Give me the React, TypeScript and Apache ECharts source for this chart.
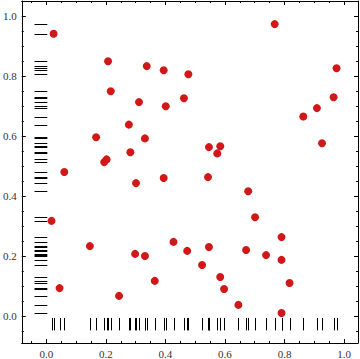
import React, { useEffect, useRef } from "react";
import * as echarts from "echarts";

// Point coordinates
const xValues = [
  0.024, 0.207, 0.337, 0.394, 0.477, 0.216, 0.311, 0.401, 0.462, 0.767,
  0.975, 0.965, 0.909, 0.863, 0.277, 0.167, 0.331, 0.282, 0.194, 0.202,
  0.06, 0.301, 0.394, 0.017, 0.926, 0.546, 0.584, 0.574, 0.543, 0.678,
  0.701, 0.146, 0.298, 0.331, 0.427, 0.473, 0.044, 0.244, 0.364, 0.546,
  0.523, 0.584, 0.597, 0.645, 0.671, 0.738, 0.79, 0.79, 0.817, 0.79,
];
const yValues = [
  0.941, 0.849, 0.833, 0.819, 0.806, 0.749, 0.713, 0.699, 0.726, 0.973,
  0.826, 0.729, 0.693, 0.665, 0.638, 0.596, 0.592, 0.546, 0.513, 0.522,
  0.48, 0.443, 0.46, 0.317, 0.576, 0.563, 0.566, 0.542, 0.463, 0.416,
  0.329, 0.233, 0.207, 0.2, 0.247, 0.217, 0.093, 0.067, 0.117, 0.23,
  0.17, 0.13, 0.09, 0.037, 0.22, 0.203, 0.263, 0.187, 0.11, 0.01,
];

// Axis extents
const X_MIN = -0.083;
const X_MAX = 1.047;
const Y_MIN = -0.09;
const Y_MAX = 1.05;

// Rug extents (data units)
const RUG_LEFT_X0 = -0.04;
const RUG_LEFT_X1 = 0.003;
const RUG_BOTTOM_Y0 = -0.0065;
const RUG_BOTTOM_Y1 = -0.048;

const FONT = "Liberation Serif";

function axisBase(pos: string, showLabels: boolean, isX: boolean) {
  return {
    type: "value",
    position: pos,
    min: isX ? X_MIN : Y_MIN,
    max: isX ? X_MAX : Y_MAX,
    splitNumber: 5,
    axisLine: { show: true, onZero: false, lineStyle: { color: "#000", width: 1 } },
    axisTick: { show: true, inside: true, length: 4, lineStyle: { color: "#000", width: 1 } },
    minorTick: { show: true, splitNumber: 4, length: 2, lineStyle: { color: "#000", width: 1 } },
    splitLine: { show: false },
    minorSplitLine: { show: false },
    axisLabel: {
      show: showLabels,
      showMinLabel: false,
      showMaxLabel: false,
      formatter: (v: number) => v.toFixed(1),
      fontFamily: FONT,
      fontSize: 11,
      color: "#333",
      margin: 5,
    },
  };
}

export default function App() {
  const ref = useRef<HTMLDivElement>(null);
  useEffect(() => {
    if (!ref.current) return;
    const chart = echarts.init(ref.current, null, { renderer: "svg" });
    const points = xValues.map((x, i) => [x, yValues[i]]);
    chart.setOption({
      animation: false,
      backgroundColor: "#fff",
      grid: { left: 16, right: 2, top: 1, bottom: 16, containLabel: false },
      xAxis: [axisBase("bottom", true, true), axisBase("top", false, true)],
      yAxis: [axisBase("left", true, false), axisBase("right", false, false)],
      series: [
        {
          type: "custom",
          xAxisIndex: 0,
          yAxisIndex: 0,
          data: yValues.map((y) => [RUG_LEFT_X0, y]),
          renderItem: (_p: any, api: any) => {
            const y = api.value(1);
            const a = api.coord([RUG_LEFT_X0, y]);
            const b = api.coord([RUG_LEFT_X1, y]);
            return {
              type: "line",
              shape: { x1: a[0], y1: Math.round(a[1]) + 0.5, x2: b[0], y2: Math.round(b[1]) + 0.5 },
              style: { stroke: "#000", lineWidth: 1 },
            };
          },
        },
        {
          type: "custom",
          xAxisIndex: 0,
          yAxisIndex: 0,
          data: xValues.map((x) => [x, RUG_BOTTOM_Y0]),
          renderItem: (_p: any, api: any) => {
            const x = api.value(0);
            const a = api.coord([x, RUG_BOTTOM_Y0]);
            const b = api.coord([x, RUG_BOTTOM_Y1]);
            return {
              type: "line",
              shape: { x1: Math.round(a[0]) + 0.5, y1: a[1], x2: Math.round(b[0]) + 0.5, y2: b[1] },
              style: { stroke: "#000", lineWidth: 1 },
            };
          },
        },
        {
          type: "scatter",
          xAxisIndex: 0,
          yAxisIndex: 0,
          symbol: "circle",
          symbolSize: 8,
          itemStyle: { color: "#d01818", opacity: 1 },
          data: points,
        },
      ],
    });
    return () => chart.dispose();
  }, []);
  return (
    <div
      ref={ref}
      style={{ position: "fixed", left: 0, top: 0, width: 360, height: 359, background: "#fff" }}
    />
  );
}
